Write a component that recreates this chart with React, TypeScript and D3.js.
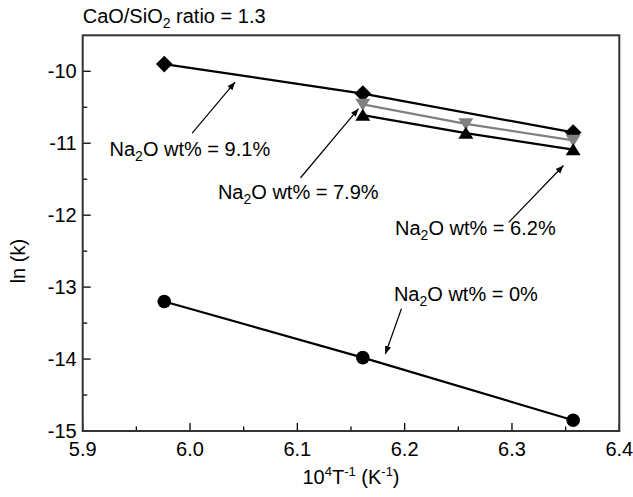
import React from "react";
import * as d3 from "d3";

// series: x = 10^4/T, y = ln(k)
const xNa91 = [5.976, 6.161, 6.357];
const yNa91 = [-9.9, -10.31, -10.85];
const xNa79 = [6.161, 6.257, 6.357];
const yNa79 = [-10.46, -10.73, -10.96];
const xNa62 = [6.161, 6.257, 6.357];
const yNa62 = [-10.61, -10.86, -11.09];
const xNa0 = [5.976, 6.161, 6.357];
const yNa0 = [-13.2, -13.98, -14.85];

const xTicks = [5.9, 6.0, 6.1, 6.2, 6.3, 6.4];
const xMinor = [5.95, 6.05, 6.15, 6.25, 6.35];
const yTicks = [-15, -14, -13, -12, -11, -10];
const yMinor = [-14.5, -13.5, -12.5, -11.5, -10.5];

// annotation labels, in data units: label position, arrow tail, arrow tip
const notes = [
  { pct: "9.1%", lx: 5.925, ly: -11.18, tx: 6.002, ty: -10.86, hx: 6.042, hy: -10.15 },
  { pct: "7.9%", lx: 6.026, ly: -11.78, tx: 6.103, ty: -11.48, hx: 6.157, hy: -10.52 },
  { pct: "6.2%", lx: 6.191, ly: -12.28, tx: 6.297, ty: -12.1, hx: 6.348, hy: -11.31 },
  { pct: "0%", lx: 6.19, ly: -13.2, tx: 6.197, ty: -13.3, hx: 6.182, hy: -13.93 },
];

const font = "'Liberation Sans', Arial, sans-serif";

function App() {
  const w = 633,
    h = 497,
    margin = { top: 35.3, right: 13.7, bottom: 66, left: 82.7 };

  const x = d3.scaleLinear().domain([5.9, 6.4]).range([margin.left, w - margin.right]);
  const y = d3.scaleLinear().domain([-15, -9.5]).range([h - margin.bottom, margin.top]);

  const line = d3
    .line<[number, number]>()
    .x((d) => x(d[0]))
    .y((d) => y(d[1]));

  const zip = (xs: number[], ys: number[]) => xs.map((v, i) => [v, ys[i]] as [number, number]);

  const x0 = x.range()[0],
    x1 = x.range()[1],
    y0 = y.range()[0],
    y1 = y.range()[1];

  const diamond = (cx: number, cy: number, r = 8.3) =>
    `M${cx},${cy - r}L${cx + r},${cy}L${cx},${cy + r}L${cx - r},${cy}Z`;
  const triUp = (cx: number, cy: number) =>
    `M${cx},${cy - 6.5}L${cx + 7.5},${cy + 5.5}L${cx - 7.5},${cy + 5.5}Z`;
  const triDown = (cx: number, cy: number) =>
    `M${cx},${cy + 6.5}L${cx + 7.5},${cy - 5.5}L${cx - 7.5},${cy - 5.5}Z`;

  const series = [
    { xs: xNa0, ys: yNa0, color: "#000", shape: "circle" },
    { xs: xNa91, ys: yNa91, color: "#000", shape: "diamond" },
    { xs: xNa79, ys: yNa79, color: "#808080", shape: "down" },
    { xs: xNa62, ys: yNa62, color: "#000", shape: "up" },
  ];

  return (
    <div style={{ position: "absolute", left: 0, top: 0 }}>
      <svg width={w} height={h} style={{ display: "block", fontFamily: font }}>
        <defs>
          <marker id="arr" viewBox="0 0 10 10" refX="10" refY="5" markerWidth="8" markerHeight="8" markerUnits="userSpaceOnUse" orient="auto">
            <path d="M0,1L10,5L0,9Z" fill="#000" />
          </marker>
        </defs>

        <text x={x0} y={22.7} fontSize={20} fill="#000">
          CaO/SiO<tspan fontSize={14} dy={5}>2</tspan>
          <tspan dy={-5}> ratio = 1.3</tspan>
        </text>

        {/* ticks */}
        {xTicks.map((t, i) => (
          <g key={"xt" + i}>
            <line x1={x(t)} x2={x(t)} y1={y0} y2={y0 - 8} stroke="#000" strokeWidth={1.3} />
            <text x={x(t)} y={y0 + 25} fontSize={20} textAnchor="middle">
              {t.toFixed(1)}
            </text>
          </g>
        ))}
        {xMinor.map((t, i) => (
          <line key={"xm" + i} x1={x(t)} x2={x(t)} y1={y0} y2={y0 - 4.5} stroke="#000" strokeWidth={1.3} />
        ))}
        {yTicks.map((t, i) => (
          <g key={"yt" + i}>
            <line x1={x0} x2={x0 + 8} y1={y(t)} y2={y(t)} stroke="#000" strokeWidth={1.3} />
            <text x={x0 - 6} y={y(t)} dy="0.35em" fontSize={20} textAnchor="end">
              {String(t)}
            </text>
          </g>
        ))}
        {yMinor.map((t, i) => (
          <line key={"ym" + i} x1={x0} x2={x0 + 4.5} y1={y(t)} y2={y(t)} stroke="#000" strokeWidth={1.3} />
        ))}

        <rect x={x0} y={y1} width={x1 - x0} height={y0 - y1} fill="none" stroke="#333" strokeWidth={2} />

        {/* axis titles */}
        <text x={(x0 + x1) / 2} y={484} fontSize={20} textAnchor="middle">
          10<tspan fontSize={13} dy={-8}>4</tspan>
          <tspan dy={8}>T</tspan>
          <tspan fontSize={13} dy={-8}>-1</tspan>
          <tspan dy={8}> (K</tspan>
          <tspan fontSize={13} dy={-8}>-1</tspan>
          <tspan dy={8}>)</tspan>
        </text>
        <text transform={`translate(25,${(y0 + y1) / 2 + 28}) rotate(-90)`} fontSize={20} textAnchor="middle">
          ln (k)
        </text>

        {/* series */}
        {series.map((s, si) => {
          const pts = zip(s.xs, s.ys);
          return (
            <g key={"s" + si}>
              <path d={line(pts) || ""} fill="none" stroke={s.color} strokeWidth={2.2} />
              {pts.map((p, i) => {
                const cx = x(p[0]),
                  cy = y(p[1]);
                if (s.shape === "circle") return <circle key={i} cx={cx} cy={cy} r={6.8} fill={s.color} />;
                if (s.shape === "diamond") return <path key={i} d={diamond(cx, cy)} fill={s.color} />;
                if (s.shape === "down") return <path key={i} d={triDown(cx, cy)} fill={s.color} />;
                return <path key={i} d={triUp(cx, cy)} fill={s.color} />;
              })}
            </g>
          );
        })}

        {/* annotations */}
        {notes.map((n, i) => (
          <g key={"n" + i}>
            <line x1={x(n.tx)} y1={y(n.ty)} x2={x(n.hx)} y2={y(n.hy)} stroke="#000" strokeWidth={1.2} markerEnd="url(#arr)" />
            <text x={x(n.lx)} y={y(n.ly)} fontSize={20}>
              Na<tspan fontSize={14} dy={5}>2</tspan>
              <tspan dy={-5}>O wt% = {n.pct}</tspan>
            </text>
          </g>
        ))}
      </svg>
    </div>
  );
}

export default App;
